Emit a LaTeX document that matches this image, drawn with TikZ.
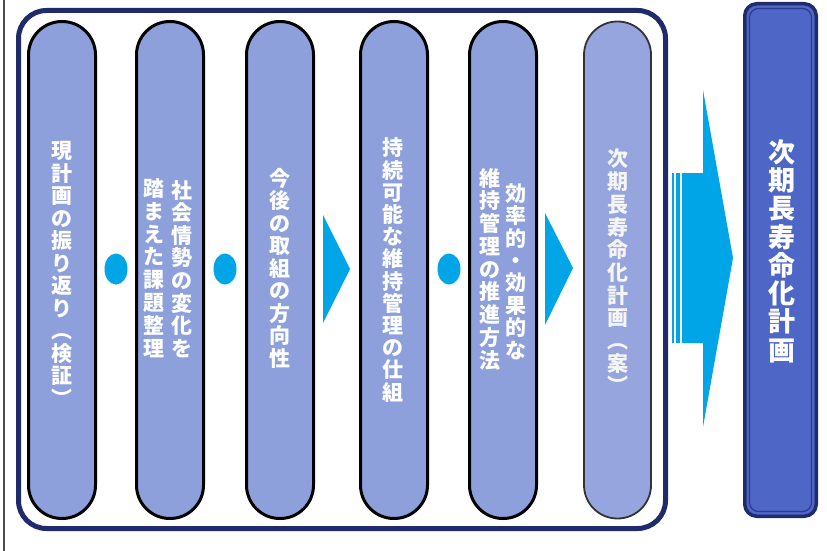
\documentclass[tikz,border=0pt]{standalone}
\usepackage{fontspec}
\newfontfamily\jp{Noto Sans CJK JP}
\usetikzlibrary{shapes.geometric}
\definecolor{navy}{RGB}{31,43,107}
\definecolor{pillfill}{RGB}{142,160,220}
\definecolor{pillfillb}{RGB}{150,165,222}
\definecolor{cyanA}{RGB}{0,165,232}
\definecolor{boxblue}{RGB}{78,102,198}
\definecolor{boxline}{RGB}{42,58,150}
\tikzset{
  pillbox/.style={draw=black, line width=3pt, fill=pillfill, rounded corners=33.4pt,
    minimum width=67pt, minimum height=497pt, inner sep=0pt},
  vtext/.style={text=white, align=center, inner sep=0pt,
    font=\jp\bfseries\fontsize{21}{#1}\selectfont},
  dot/.style={ellipse, fill=cyanA, draw=none, minimum width=23pt, minimum height=31pt, inner sep=0pt},
  tri/.style={fill=cyanA, draw=none}
}
\begin{document}
\begin{tikzpicture}[x=1pt,y=-1pt]
\useasboundingbox (0,0) rectangle (827,551);
\fill[white] (0,0) rectangle (827,551);
\draw[gray!60!black, line width=2pt] (4,0) -- (4,551);

% outer frame
\node[draw=navy, line width=5pt, fill=white, rounded corners=28pt, minimum width=647pt,
  minimum height=518pt, inner sep=0pt] (frame) at (342,269.5) {};

% pills
\node[pillbox] (p1) at (62,270) {};
\node[pillbox] (p2) at (170,270) {};
\node[pillbox] (p3) at (280,270) {};
\node[pillbox] (p4) at (394,270) {};
\node[pillbox] (p5) at (503,270) {};
\node[pillbox, fill=pillfillb, draw=black!80, line width=1.8pt] (p6) at (617.5,270) {};

% texts
\node[vtext=22.5] (t1) at (62,273.8) {現\\計\\画\\の\\振\\り\\返\\り\\︵\\検\\証\\︶};
\node[vtext=22.6] (t2a) at (182,269) {社\\会\\情\\勢\\の\\変\\化\\を};
\node[vtext=22.8] (t2b) at (154,268) {踏\\ま\\え\\た\\課\\題\\整\\理};
\node[vtext=22.5] (t3) at (280,268) {今\\後\\の\\取\\組\\の\\方\\向\\性};
\node[vtext=22.2] (t4) at (393,270) {持\\続\\可\\能\\な\\維\\持\\管\\理\\の\\仕\\組};
\node[vtext=22.4] (t5a) at (516,271.5) {効\\率\\的\\・\\効\\果\\的\\な};
\node[vtext=22.75] (t5b) at (490,269) {維\\持\\管\\理\\の\\推\\進\\方\\法};
\node[vtext=22.7, text=white!92!gray] (t6) at (617.5,271.5) {次\\期\\長\\寿\\命\\化\\計\\画\\︵\\案\\︶};

% dots
\node[dot] (d1) at (116,269) {};
\node[dot] (d2) at (225,269) {};
\node[dot] (d3) at (449,269) {};

% triangles
\fill[tri] (323,215) -- (350,269) -- (323,323) -- cycle;
\fill[tri] (545,213) -- (573,268) -- (545,325) -- cycle;

% big arrow
\fill[cyanA] (682,173) -- (703,173) -- (703,90) -- (733,258) -- (703,427) -- (703,343) -- (682,343) -- cycle;
\fill[cyanA] (672,173) rectangle (673.8,343);
\fill[cyanA] (676,173) rectangle (679.6,343);

% final box
\node[draw=navy, line width=3.5pt, fill=boxblue, rounded corners=12pt, minimum width=71.5pt,
  minimum height=512.5pt, inner sep=0pt] (final) at (780.5,260) {};
\node[draw=boxline, line width=1.2pt, rounded corners=9pt, minimum width=62pt,
  minimum height=503pt, inner sep=0pt] (finalin) at (780.5,260) {};
\node[text=white, align=center, inner sep=0pt, font=\jp\bfseries\fontsize{27}{28.3}\selectfont]
  (tf) at (782,251) {次\\期\\長\\寿\\命\\化\\計\\画};
\end{tikzpicture}
\end{document}
